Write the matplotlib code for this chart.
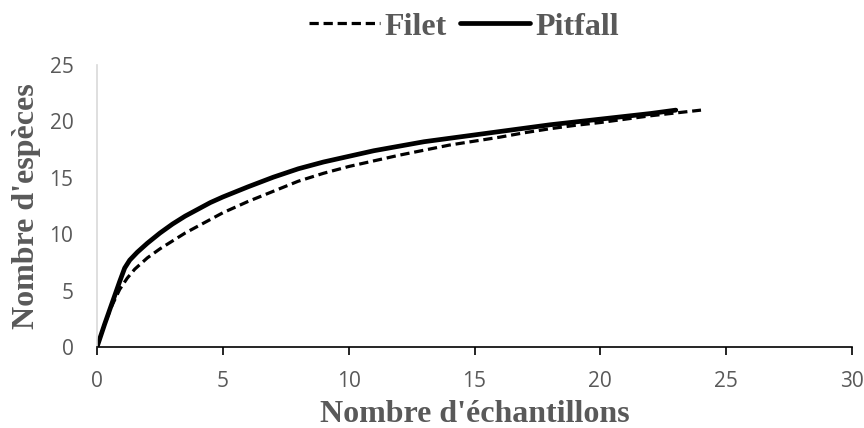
import matplotlib
matplotlib.use("Agg")
import matplotlib.pyplot as plt

# Data
filet_x = [0, 0.3, 0.6, 0.9, 1.2, 1.5, 2, 2.5, 3, 3.5, 4, 4.5, 5, 6, 7, 8, 9, 10,
           11, 12, 13, 14, 15, 16, 17, 18, 19, 20, 21, 22, 23, 24]
filet_y = [0, 2.0, 3.7, 5.1, 6.1, 6.9, 7.9, 8.7, 9.4, 10.1, 10.7, 11.3, 11.9, 12.9, 13.8, 14.7, 15.4, 16.0,
           16.5, 17.0, 17.45, 17.9, 18.25, 18.6, 19.0, 19.35, 19.65, 19.9, 20.2, 20.5, 20.75, 21.0]

pitfall_x = [0, 0.3, 0.6, 0.9, 1.1, 1.3, 1.6, 2, 2.5, 3, 3.5, 4, 4.5, 5, 6, 7, 8, 9, 10,
             11, 12, 13, 14, 15, 16, 17, 18, 19, 20, 21, 22, 23]
pitfall_y = [0, 2.0, 3.9, 5.8, 7.0, 7.7, 8.4, 9.2, 10.1, 10.9, 11.6, 12.2, 12.8, 13.3, 14.2, 15.05, 15.8, 16.4, 16.9,
             17.4, 17.8, 18.2, 18.5, 18.8, 19.1, 19.4, 19.7, 19.95, 20.2, 20.45, 20.7, 21.0]

x_ticks = [0, 5, 10, 15, 20, 25, 30]
y_ticks = [0, 5, 10, 15, 20, 25]

gray = "#595959"
serif = ["Liberation Serif", "DejaVu Serif"]
tickfont = ["Open Sans", "DejaVu Sans"]

fig = plt.figure(figsize=(8.64, 4.28), dpi=100)
ax = fig.add_axes([97/864, 1-347/428, (852-97)/864, (347-65)/428])

l1, = ax.plot(filet_x, filet_y, color="black", lw=2.3, linestyle=(0, (2.9, 1.5)), label="Filet")
l2, = ax.plot(pitfall_x, pitfall_y, color="black", lw=3.4, label="Pitfall",
              solid_capstyle="round", solid_joinstyle="round")

ax.set_xlim(0, 30)
ax.set_ylim(0, 25)
ax.set_xticks(x_ticks)
ax.set_yticks(y_ticks)
ax.set_xticklabels([str(v) for v in x_ticks], family=tickfont, fontsize=15, color=gray)
ax.set_yticklabels([str(v) for v in y_ticks], family=tickfont, fontsize=15, color=gray)

for s in ["top", "right"]:
    ax.spines[s].set_visible(False)
ax.spines["left"].set_color("#d9d9d9")
ax.spines["left"].set_linewidth(1.2)
ax.spines["bottom"].set_color("black")
ax.spines["bottom"].set_linewidth(1.2)
ax.tick_params(axis="y", length=0, pad=17)
ax.tick_params(axis="x", direction="out", length=5.5, width=1.2, color="black", pad=11.5)

ax.set_xlabel("Nombre d'échantillons", family=serif, fontweight="bold", fontsize=23, color=gray, labelpad=6)
ax.set_ylabel("Nombre d'espèces", family=serif, fontweight="bold", fontsize=23, color=gray, labelpad=6)

leg = fig.legend(handles=[l1, l2], loc="center", bbox_to_anchor=(464/864, 1-27/428), ncol=2,
                 frameon=False, handlelength=2.2, handletextpad=0.16, columnspacing=0.4,
                 borderpad=0, prop={"family": serif, "weight": "bold", "size": 23})
for t in leg.get_texts():
    t.set_color(gray)

fig.savefig("out.png", dpi=100)
